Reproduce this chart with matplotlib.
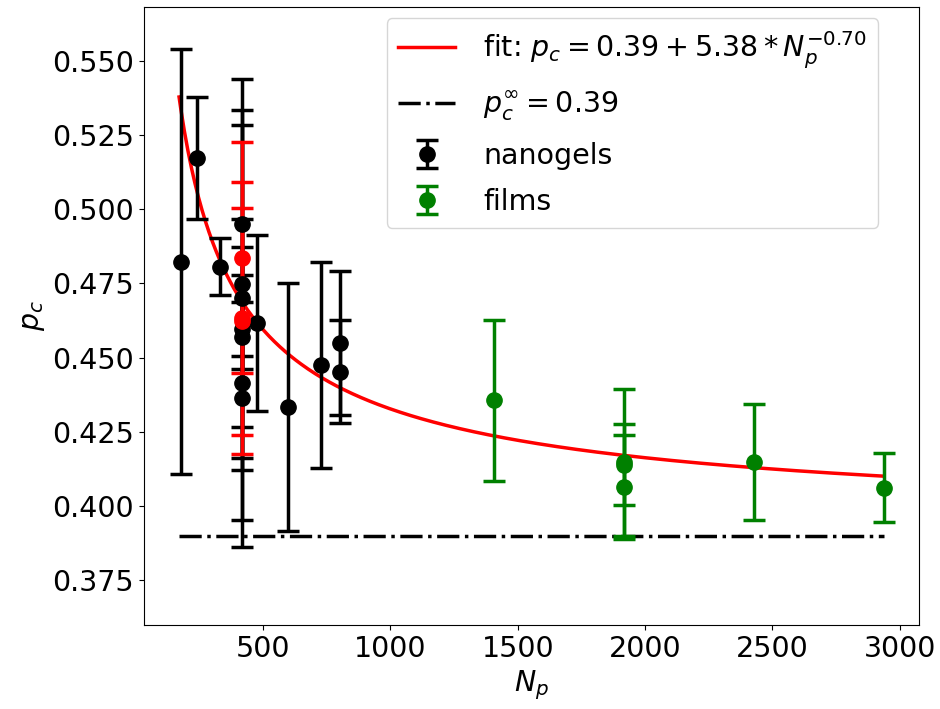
import numpy as np
import matplotlib
matplotlib.use('Agg')
import matplotlib.pyplot as plt

# nanogels (black)
Np_gel = [177, 242, 331, 416, 416, 416, 416, 416, 416, 416, 478, 596, 729, 801, 801]
pc_gel = [0.4823, 0.5172, 0.4806, 0.4950, 0.4747, 0.4702, 0.4595, 0.4570, 0.4414, 0.4365,
          0.4617, 0.4334, 0.4474, 0.4549, 0.4452]
err_gel = [0.0715, 0.0207, 0.0096, 0.0488, 0.0586, 0.0580, 0.0091, 0.0303, 0.0553, 0.0413,
           0.0296, 0.0417, 0.0347, 0.0243, 0.0173]

# highlighted nanogels (red)
Np_red = [416, 416, 416]
pc_red = [0.4837, 0.4634, 0.4622]
err_red = [0.0389, 0.0457, 0.0381]

# films (green)
Np_film = [1407, 1918, 1918, 1918, 2429, 2939]
pc_film = [0.4356, 0.4147, 0.4140, 0.4064, 0.4149, 0.4062]
err_film = [0.0272, 0.0248, 0.0136, 0.0176, 0.0195, 0.0116]

# fit parameters
p_inf = 0.39
amp = 5.38
expo = -0.70

fs = 20.5
fig = plt.figure(figsize=(9.4, 7.09), dpi=100)
ax = fig.add_axes([0.153, 0.1185, 0.825, 0.8715])

N_all = Np_gel + Np_film
N_fit = np.linspace(170, max(N_all), 400)
ax.plot(N_fit, p_inf + amp * N_fit ** expo, color='red', lw=2.5,
        label=r'fit: $p_c = 0.39 + 5.38 * N_p^{-0.70}$')
ax.plot(N_fit, np.full_like(N_fit, p_inf), '-.', color='black', lw=2.5,
        label=r'$p_c^{\infty} = 0.39$')

ebkw = dict(fmt='o', markersize=11, elinewidth=2.5, capsize=8, capthick=2.5)
ax.errorbar(Np_gel, pc_gel, yerr=err_gel, color='black', label='nanogels', **ebkw)
ax.errorbar(Np_red, pc_red, yerr=err_red, color='red', **ebkw)
ax.errorbar(Np_film, pc_film, yerr=err_film, color='green', label='films', **ebkw)

ax.set_ylim(0.36, 0.568)
ax.set_yticks([0.375, 0.400, 0.425, 0.450, 0.475, 0.500, 0.525, 0.550])
ax.set_xticks([500, 1000, 1500, 2000, 2500, 3000])
ax.tick_params(labelsize=fs)
ax.set_xlabel(r'$N_p$', fontsize=fs)
ax.set_ylabel(r'$p_c$', fontsize=fs)
ax.legend(loc='upper right', fontsize=fs, labelspacing=0.65, handletextpad=1.0,
          bbox_to_anchor=(0.947, 0.982), borderaxespad=0)

plt.savefig('out.png')
